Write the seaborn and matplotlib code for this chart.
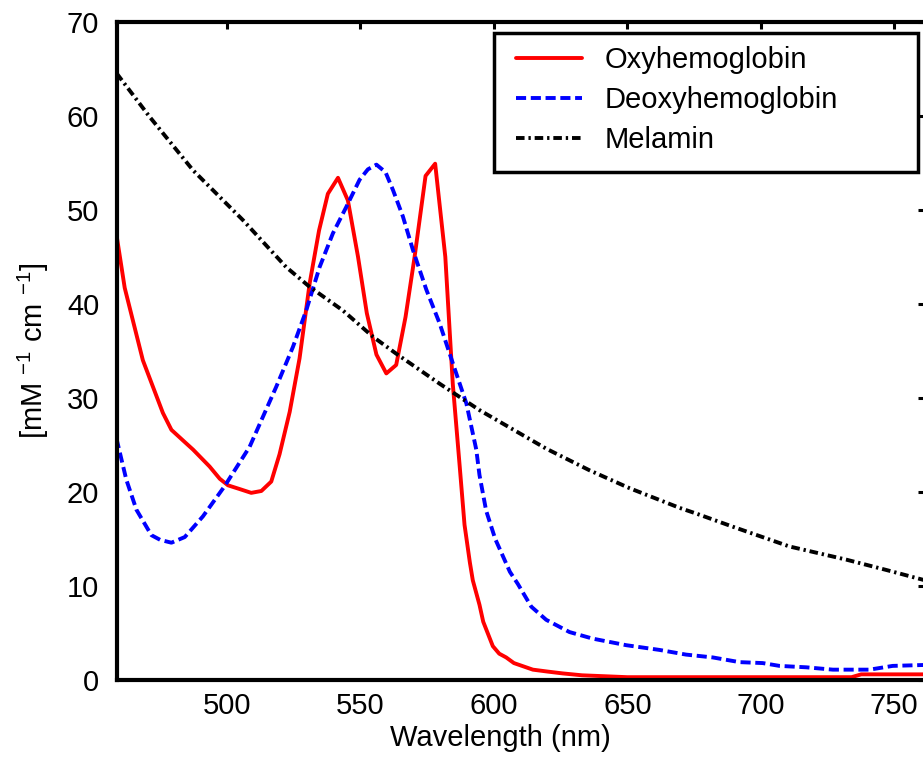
import matplotlib
matplotlib.use("Agg")
import matplotlib.pyplot as plt
import seaborn as sns
from matplotlib.patches import Rectangle

# ---- data ----
oxy_nm = [458.7, 461.7, 468.5, 476.0, 479.2, 484.2, 487.3, 493.5, 497.3, 500.4, 504.8,
          509.1, 512.9, 516.6, 519.7, 523.5, 527.2, 531.0, 534.5, 537.8, 541.6, 545.3,
          549.1, 552.4, 556.0, 559.7, 563.4, 566.9, 570.3, 574.4, 578.0, 581.8, 584.6,
          587.2, 589.0, 591.0, 592.1, 594.6, 596.0, 599.6, 602.0, 604.6, 607.5, 614.6,
          620.0, 625.8, 633.0, 650.0, 700.0, 734.0, 737.6, 761.5]
oxy_val = [47.2, 41.7, 34.0, 28.4, 26.6, 25.3, 24.5, 22.7, 21.4, 20.7, 20.3,
           19.9, 20.1, 21.1, 24.0, 28.5, 34.2, 42.2, 47.8, 51.7, 53.4, 51.0,
           45.0, 39.0, 34.6, 32.6, 33.5, 38.6, 45.0, 53.6, 54.9, 45.0, 31.5,
           22.7, 16.5, 12.5, 10.6, 8.0, 6.2, 3.6, 2.8, 2.4, 1.8, 1.1,
           0.9, 0.7, 0.5, 0.3, 0.3, 0.3, 0.6, 0.6]

deoxy_nm = [458.6, 462.3, 466.1, 471.7, 475.0, 479.2, 484.2, 491.0, 499.1, 508.5, 518.5,
            524.7, 529.7, 534.7, 539.7, 544.7, 549.7, 552.8, 556.0, 559.4, 562.2, 565.9,
            569.7, 574.7, 579.7, 584.6, 589.7, 593.4, 594.6, 597.1, 600.5, 606.0, 609.0,
            614.0, 619.6, 628.3, 637.0, 649.6, 662.0, 672.0, 682.0, 692.0, 700.7, 707.0,
            717.0, 727.0, 740.7, 749.4, 761.5]
deoxy_val = [25.7, 21.3, 18.1, 15.4, 14.9, 14.6, 15.2, 17.4, 20.6, 24.8, 31.2,
             35.4, 39.3, 43.9, 47.5, 50.3, 53.2, 54.3, 54.8, 54.0, 52.1, 49.3,
             45.7, 41.5, 37.9, 33.7, 29.4, 24.5, 21.8, 18.0, 15.0, 11.5, 10.2,
             7.8, 6.4, 5.1, 4.4, 3.7, 3.2, 2.7, 2.4, 1.9, 1.8, 1.5,
             1.35, 1.1, 1.1, 1.5, 1.6]

mel_nm = [458.7, 471.0, 487.3, 506.0, 522.2, 531.0, 543.4, 554.7, 563.4, 579.7, 594.6,
          619.6, 635.8, 650.8, 669.6, 675.8, 689.5, 710.7, 732.0, 747.0, 761.5]
mel_val = [64.5, 59.9, 54.2, 48.9, 43.9, 41.8, 39.3, 36.5, 34.7, 31.5, 28.7,
           24.6, 22.3, 20.4, 18.3, 17.7, 16.3, 14.2, 12.8, 11.7, 10.6]

labels = ["Oxyhemoglobin", "Deoxyhemoglobin", "Melamin"]
x_ticks = [500, 550, 600, 650, 700, 750]
y_ticks = [0, 10, 20, 30, 40, 50, 60, 70]

# ---- style ----
sns.set_theme(style="white")
plt.rcParams["font.family"] = ["Liberation Sans", "DejaVu Sans"]
plt.rcParams["mathtext.default"] = "regular"
plt.rcParams["text.color"] = "black"
FS = 21

W, H = 923, 765
fig = plt.figure(figsize=(W / 100, H / 100), dpi=100)
L, R, T, B = 116.7, 925.0, 21.7, 680.0
ax = fig.add_axes([L / W, 1 - B / H, (R - L) / W, (B - T) / H])

lw = 2.8
sns.lineplot(x=oxy_nm, y=oxy_val, ax=ax, color="#ff0000", linewidth=lw,
             estimator=None, sort=False, label=labels[0])
sns.lineplot(x=deoxy_nm, y=deoxy_val, ax=ax, color="#0000ff", linewidth=lw,
             estimator=None, sort=False, label=labels[1],
             linestyle=(0, (2.6, 1.2)))
sns.lineplot(x=mel_nm, y=mel_val, ax=ax, color="black", linewidth=lw,
             estimator=None, sort=False, label=labels[2],
             linestyle=(0, (2.2, 1.0, 0.6, 1.0)))

ax.set_xlim(458.7, 761.5)
ax.set_ylim(0, 70)
ax.set_xticks(x_ticks)
ax.set_yticks(y_ticks)

for s in ax.spines.values():
    s.set_visible(True)
    s.set_linewidth(3)
    s.set_color("black")

ax.tick_params(direction="in", length=5, width=2.2, top=True, right=True,
               labelsize=FS, colors="black")
ax.tick_params(axis="x", pad=9)
ax.tick_params(axis="y", pad=12.5)

ax.set_xlabel("Wavelength (nm)", fontsize=FS, color="black")
ax.xaxis.set_label_coords((500 - L) / (R - L), -(738 - B) / (B - T))
ax.xaxis.label.set_verticalalignment("center")
ax.set_ylabel(r"[mM $^{-1}$ cm $^{-1}$]", fontsize=FS, color="black")
ax.yaxis.set_label_coords((33 - L) / (R - L), 0.5)
ax.yaxis.label.set_verticalalignment("center")

# legend
leg_handles, leg_labels = ax.get_legend_handles_labels()
ax.legend(leg_handles, leg_labels, frameon=False, loc="upper left",
          bbox_to_anchor=(516 / W, 1 - 46 / H), bbox_transform=fig.transFigure,
          borderaxespad=0, borderpad=0, handlelength=2.25, handletextpad=0.78,
          labelspacing=0.42, fontsize=FS)
fig.patches.append(Rectangle((494 / W, 1 - 172 / H), (918 - 494) / W, (172 - 33) / H,
                             transform=fig.transFigure, facecolor="white",
                             edgecolor="black", linewidth=2.5, zorder=0.5))
ax.set_zorder(1)
ax.patch.set_alpha(0)
fig.patch.set_facecolor("white")

fig.savefig("out.png", dpi=100)
